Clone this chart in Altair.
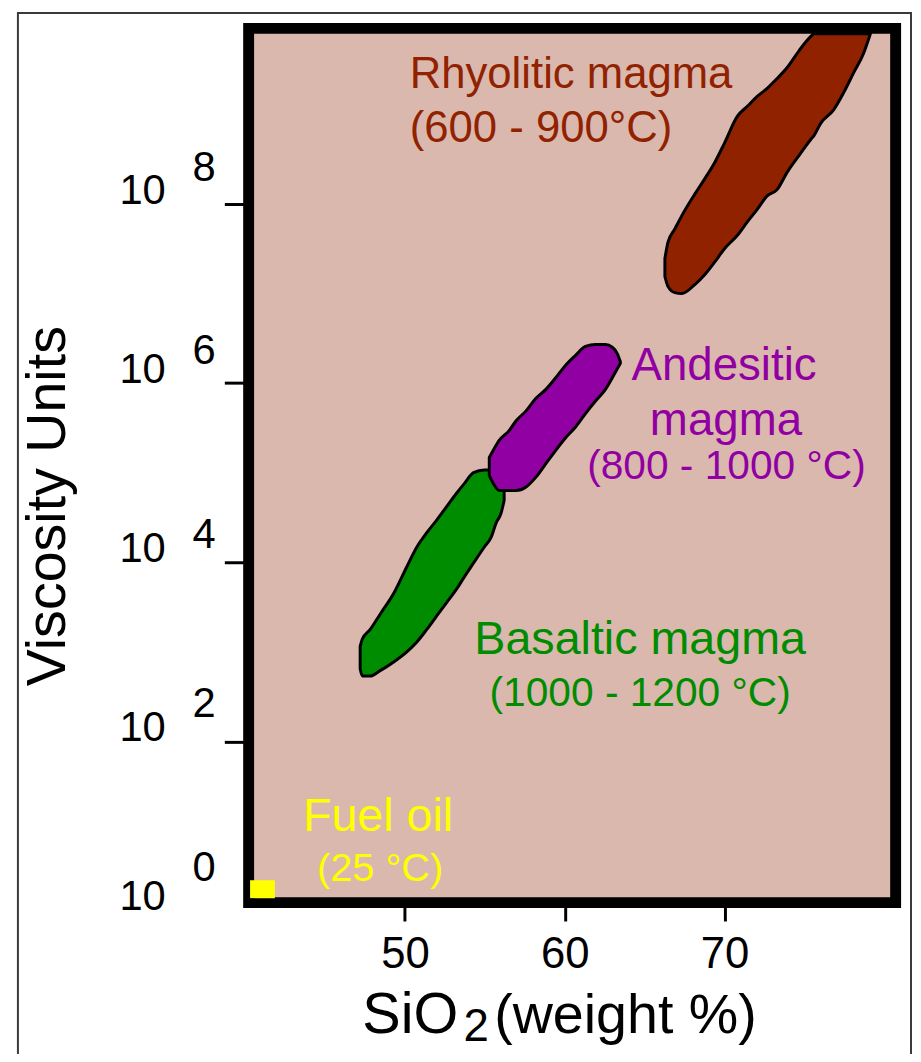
import altair as alt
import pandas as pd

# ---------------- axes ----------------
x_domain = [40.22, 80.71]          # SiO2 weight %
y_domain = [0.2, 9.96]             # log10 viscosity
x_ticks = [50, 60, 70]
y_ticks = [2, 4, 6, 8]

# y tick labels drawn as "10" + raised exponent
ylab_exp = ["0", "2", "4", "6", "8"]
ylab_base_pos = [0.12, 2.0, 4.0, 6.0, 8.0]
ylab_exp_pos = [0.44, 2.27, 4.16, 6.21, 8.26]

# ---------------- magma fields (upper / lower outline per SiO2) ----------------
bas_x = [47.20, 47.33, 47.83, 48.45, 49.32, 50.12, 50.75, 51.37, 51.99, 52.61,
         53.23, 53.73, 54.29, 54.97, 55.40, 55.71, 56.02, 56.21]
bas_hi = [3.06, 3.14, 3.25, 3.42, 3.66, 3.95, 4.17, 4.33, 4.47, 4.62,
          4.77, 4.88, 5.00, 5.03, 5.03, 5.00, 4.91, 4.80]
bas_lo = [2.81, 2.73, 2.73, 2.79, 2.89, 3.00, 3.11, 3.25, 3.40, 3.55,
          3.70, 3.84, 3.99, 4.17, 4.28, 4.44, 4.55, 4.69]

and_x = [55.28, 55.53, 55.90, 56.52, 56.96, 57.58, 58.20, 58.82, 59.44, 60.06,
         60.68, 61.30, 61.93, 62.55, 62.98, 63.29, 63.48]
and_hi = [5.17, 5.25, 5.36, 5.47, 5.58, 5.69, 5.83, 5.93, 6.06, 6.20,
          6.31, 6.41, 6.43, 6.43, 6.40, 6.33, 6.24]
and_lo = [4.97, 4.88, 4.80, 4.80, 4.80, 4.84, 4.95, 5.10, 5.25, 5.39,
          5.51, 5.66, 5.80, 5.93, 6.06, 6.16, 6.22]

rhy_x = [66.27, 66.46, 66.89, 67.33, 68.14, 68.76, 69.38, 70.00, 70.81, 71.43,
         72.05, 72.67, 73.29, 73.91, 74.66, 75.40, 75.59, 76.02, 76.83, 77.45,
         78.07, 78.70, 79.13]
rhy_hi = [7.39, 7.57, 7.72, 7.87, 8.11, 8.28, 8.46, 8.68, 8.98, 9.09,
          9.20, 9.29, 9.40, 9.52, 9.71, 9.87, 9.90, 9.90, 9.90, 9.90,
          9.90, 9.90, 9.90]
rhy_lo = [7.19, 7.08, 7.01, 7.00, 7.10, 7.21, 7.35, 7.50, 7.65, 7.80,
          7.94, 8.09, 8.16, 8.35, 8.54, 8.72, 8.76, 8.90, 9.05, 9.24,
          9.46, 9.68, 9.90]

# fuel oil box
fuel_x = [40.31]
fuel_x2 = [41.86]
fuel_y = [0.25]
fuel_y2 = [0.45]

# ---------------- labels ----------------
rhy_text = ["Rhyolitic magma", "(600 - 900°C)"]
rhy_tx = [50.30, 50.30]
rhy_ty = [9.29, 8.69]

and_text1 = ["Andesitic", "magma"]
and_tx1 = [69.97, 70.09]
and_ty1 = [6.04, 5.42]
and_text2 = ["(800 - 1000 °C)"]
and_tx2 = [70.12]
and_ty2 = [4.93]

bas_text1 = ["Basaltic magma"]
bas_tx1 = [64.72]
bas_ty1 = [2.975]
bas_text2 = ["(1000 - 1200 °C)"]
bas_tx2 = [64.72]
bas_ty2 = [2.39]

fuel_text1 = ["Fuel oil"]
fuel_tx1 = [48.32]
fuel_ty1 = [1.00]
fuel_text2 = ["(25 °C)"]
fuel_tx2 = [48.45]
fuel_ty2 = [0.44]

FONT = "Liberation Sans"
RED = "#912200"
PURPLE = "#9000A2"
GREEN = "#008C00"
YELLOW = "#FFFF00"

xs = alt.Scale(domain=x_domain, nice=False, zero=False)
ys = alt.Scale(domain=y_domain, nice=False, zero=False)

X = alt.X("x:Q", scale=xs, axis=alt.Axis(
    values=x_ticks, title=None, domain=False, grid=False,
    tickSize=18.5, tickWidth=3, tickColor="black",
    labelFont=FONT, labelFontSize=44, labelColor="black",
    labelBaseline="alphabetic", labelPadding=47, labelFlush=False))
Y = alt.Y("y:Q", scale=ys, axis=alt.Axis(
    values=y_ticks, title=None, domain=False, grid=False, labels=False,
    tickSize=24.5, tickWidth=3, tickColor="black"))


def blob(xv, hi, lo, color):
    df = pd.DataFrame({"x": xv, "y": hi, "y2": lo})
    return alt.Chart(df).mark_area(
        color=color, fill=color, stroke="black", strokeWidth=3,
        interpolate="monotone", opacity=1
    ).encode(x=X, y=Y, y2="y2:Q")


def texts(t, tx, ty, color, size, align="center"):
    df = pd.DataFrame({"t": t, "x": tx, "y": ty})
    return alt.Chart(df).mark_text(
        font=FONT, fontSize=size, color=color, align=align,
        baseline="alphabetic"
    ).encode(x=X, y=Y, text="t:N")


green = blob(bas_x, bas_hi, bas_lo, GREEN)
purple = blob(and_x, and_hi, and_lo, PURPLE)
red = blob(rhy_x, rhy_hi, rhy_lo, RED)

fuel = alt.Chart(pd.DataFrame({"x": fuel_x, "x2": fuel_x2, "y": fuel_y, "y2": fuel_y2})).mark_rect(
    color=YELLOW).encode(x=X, x2="x2:Q", y=Y, y2="y2:Q")

# y tick labels
base_lab = alt.Chart(pd.DataFrame({"y": ylab_base_pos, "t": ["10"] * 5})).mark_text(
    font=FONT, fontSize=42, color="black", align="right", baseline="alphabetic"
).encode(x=alt.value(-83.5), y=Y, text="t:N")
exp_lab = alt.Chart(pd.DataFrame({"y": ylab_exp_pos, "t": ylab_exp})).mark_text(
    font=FONT, fontSize=42, color="black", align="center", baseline="alphabetic"
).encode(x=alt.value(-45), y=Y, text="t:N")

one = pd.DataFrame({"a": [0]})
ytitle = alt.Chart(one).mark_text(
    text="Viscosity Units", font=FONT, fontSize=56, color="black",
    angle=270, align="center", baseline="alphabetic"
).encode(x=alt.value(-185.5), y=alt.value(481.5))
xt1 = alt.Chart(one).mark_text(
    text="SiO", font=FONT, fontSize=58, color="black", align="left", baseline="alphabetic"
).encode(x=alt.value(114.5), y=alt.value(1012.5))
xt2 = alt.Chart(one).mark_text(
    text="2", font=FONT, fontSize=46, color="black", align="left", baseline="alphabetic"
).encode(x=alt.value(216.5), y=alt.value(1020.5))
xt3 = alt.Chart(one).mark_text(
    text="(weight %)", font=FONT, fontSize=56, color="black", align="left", baseline="alphabetic"
).encode(x=alt.value(247.5), y=alt.value(1012.5))

frame = alt.Chart(one).mark_rect(
    fillOpacity=0, stroke="#3a3a3a", strokeWidth=2
).encode(x=alt.value(-232.5), x2=alt.value(667.5), y=alt.value(-15.5), y2=alt.value(1045))

chart = alt.layer(
    green, purple, red, fuel,
    texts(rhy_text, rhy_tx, rhy_ty, RED, 44, "left"),
    texts(and_text1, and_tx1, and_ty1, PURPLE, 46),
    texts(and_text2, and_tx2, and_ty2, PURPLE, 41),
    texts(bas_text1, bas_tx1, bas_ty1, GREEN, 47),
    texts(bas_text2, bas_tx2, bas_ty2, GREEN, 41),
    texts(fuel_text1, fuel_tx1, fuel_ty1, YELLOW, 47),
    texts(fuel_text2, fuel_tx2, fuel_ty2, YELLOW, 40),
    base_lab, exp_lab, ytitle, xt1, xt2, xt3, frame
).properties(
    width=652, height=881,
    autosize=alt.AutoSizeParams(type="none"),
    padding={"left": 242.5, "top": 16.5, "right": 17.5, "bottom": 148.5},
    background="white"
).configure_view(
    fill="#DBB8AD", stroke="black", strokeWidth=11
)

chart.save("out.html", embed_options={"renderer": "svg", "actions": False})
